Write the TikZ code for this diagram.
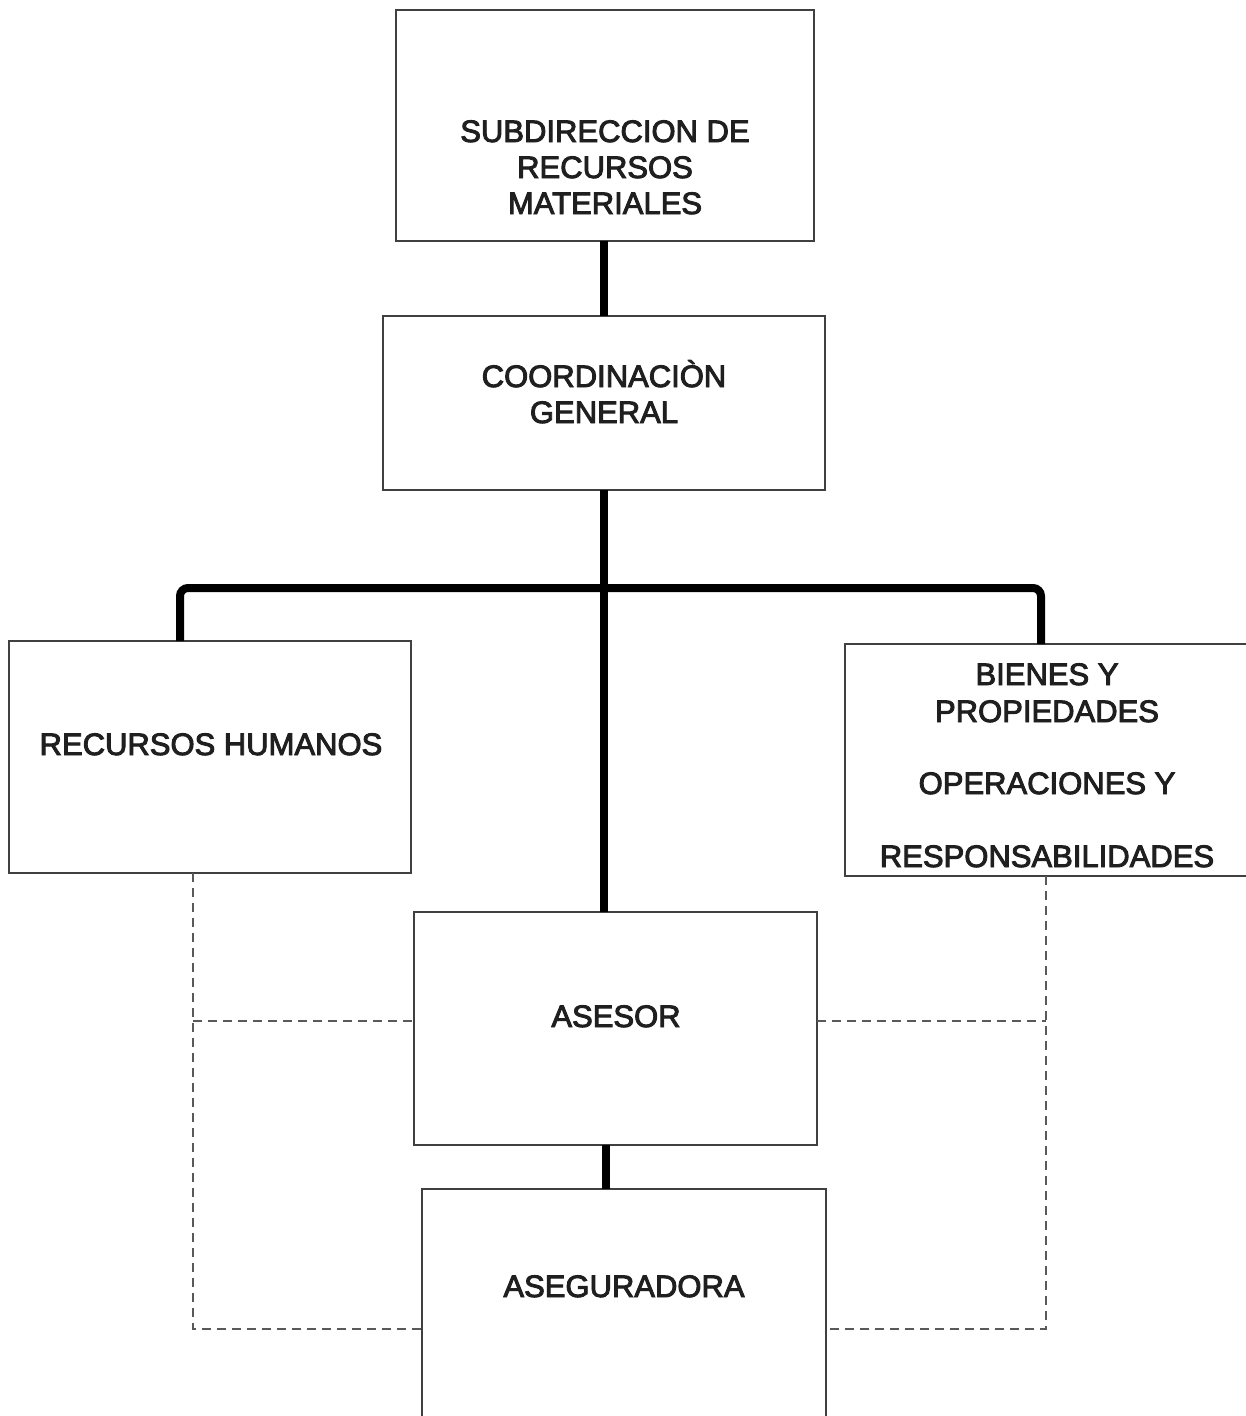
\documentclass[tikz,border=0pt]{standalone}
\usepackage{fontspec}
\setmainfont{Liberation Sans}
\newfontfamily\semibf{Liberation Sans}[FakeBold=3]
\begin{document}
\begin{tikzpicture}[x=1pt,y=-1pt,
  box/.style={draw=black!75, line width=2pt, rectangle, inner sep=0pt, outer sep=0pt, fill=none},
  lbl/.style={anchor=base, inner sep=0pt, outer sep=0pt, text=black!88, font=\semibf\fontsize{31}{36}\selectfont},
  thickln/.style={line width=8pt, black},
  dashln/.style={draw=black!65, line width=2.4pt, dash pattern=on 9pt off 6pt}]
\useasboundingbox (0,0) rectangle (1246,1416);
\fill[white] (0,0) rectangle (1246,1416);

% boxes
\node[box, minimum width=418pt, minimum height=231pt] (b1) at (605,125.5) {};
\node[box, minimum width=442pt, minimum height=174pt] (b2) at (604,403) {};
\node[box, minimum width=402pt, minimum height=232pt] (b3) at (210,757) {};
\node[box, minimum width=405pt, minimum height=232pt] (b4) at (1047.5,760) {};
\node[box, minimum width=403pt, minimum height=233pt] (b5) at (615.5,1028.5) {};
\node[box, minimum width=404pt, minimum height=241pt] (b6) at (624,1309.5) {};

% texts
\node[lbl] (t1a) at (605,142) {SUBDIRECCION DE};
\node[lbl] (t1b) at (605,178) {RECURSOS};
\node[lbl] (t1c) at (605,214) {MATERIALES};
\node[lbl] (t2a) at (604,387) {COORDINACIÒN};
\node[lbl] (t2b) at (604,423) {GENERAL};
\node[lbl] (t3) at (211,755) {RECURSOS HUMANOS};
\node[lbl] (t4a) at (1047,685) {BIENES Y};
\node[lbl] (t4b) at (1047,722) {PROPIEDADES};
\node[lbl] (t4c) at (1047,794) {OPERACIONES Y};
\node[lbl] (t4d) at (1047,867) {RESPONSABILIDADES};
\node[lbl] (t5) at (616,1027) {ASESOR};
\node[lbl] (t6) at (624,1297) {ASEGURADORA};

% helper coordinates
\coordinate (busL) at (180,588);
\coordinate (busR) at (1041,588);
\coordinate (c56) at (606,1167);
\coordinate (dl1) at (193,1021);
\coordinate (dl2) at (193,1329);
\coordinate (dr1) at (1046,1021);
\coordinate (dr2) at (1046,1329);

% solid connectors
\draw[thickln] (b1.south -| b2.north) -- (b2.north);
\draw[thickln] (b2.south) -- (b2.south |- b5.north);
\draw[thickln, rounded corners=8pt] (b3.north -| busL) -- (busL) -- (busR) -- (b4.north -| busR);
\draw[thickln] (b5.south -| c56) -- (b6.north -| c56);

% dashed connectors
\draw[dashln] (b3.south -| dl1) -- (dl2) -- (b6.west |- dl2);
\draw[dashln] (dl1) -- (b5.west |- dl1);
\draw[dashln] (b4.south -| dr1) -- (dr2) -- (b6.east |- dr2);
\draw[dashln] (b5.east |- dr1) -- (dr1);
\end{tikzpicture}
\end{document}
